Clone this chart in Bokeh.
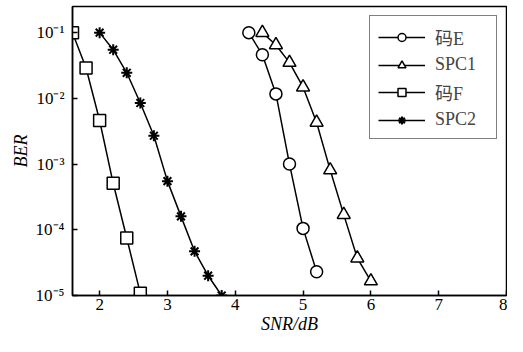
from bokeh.plotting import figure
from bokeh.models import Range1d, FixedTicker, CustomJSTickFormatter, Legend, LegendItem
from bokeh.embed import file_html
from bokeh.resources import INLINE

# ---- data ----
snr_e = [4.2, 4.4, 4.6, 4.8, 5.0, 5.2]
ber_e = [0.1, 0.046, 0.0117, 1.0e-3, 1.05e-4, 2.3e-5]

snr_spc1 = [4.4, 4.6, 4.8, 5.0, 5.2, 5.4, 5.6, 5.8, 6.0]
ber_spc1 = [0.1, 0.065, 0.035, 0.0148, 4.3e-3, 8.1e-4, 1.7e-4, 3.7e-5, 1.66e-5]

snr_f = [1.6, 1.8, 2.0, 2.2, 2.4, 2.6]
ber_f = [0.1, 0.029, 4.6e-3, 5.1e-4, 7.5e-5, 1.08e-5]

snr_spc2 = [2.0, 2.2, 2.4, 2.6, 2.8, 3.0, 3.2, 3.4, 3.6, 3.8]
ber_spc2 = [0.1, 0.055, 0.0245, 8.5e-3, 2.7e-3, 5.5e-4, 1.6e-4, 4.7e-5, 2.0e-5, 1.0e-5]

series_labels = ["码E", "SPC1", "码F", "SPC2"]
x_ticks = [2, 3, 4, 5, 6, 7, 8]
y_ticks = [1e-5, 1e-4, 1e-3, 1e-2, 1e-1]
y_tick_labels = ["10⁻⁵", "10⁻⁴", "10⁻³", "10⁻²", "10⁻¹"]
x_title = "SNR/dB"
y_title = "BER"

SERIF = "Liberation Serif"
FONT = "Liberation Serif, Noto Sans CJK SC"

p = figure(width=507, height=336, x_range=Range1d(1.6, 8), y_range=Range1d(1e-5, 0.25),
           y_axis_type="log", output_backend="svg", toolbar_location=None,
           min_border_left=72, min_border_right=1, min_border_top=6, min_border_bottom=36)
p.title.visible = False
p.background_fill_color = "white"
p.border_fill_color = "white"
p.outline_line_color = "black"
p.outline_line_width = 1.5
p.xgrid.visible = False
p.ygrid.visible = False

for ax in (p.xaxis[0], p.yaxis[0]):
    ax.axis_line_width = 1.5
    ax.axis_line_color = "black"
    ax.major_tick_in = 5
    ax.major_tick_out = 0
    ax.major_tick_line_width = 1.5
    ax.minor_tick_line_color = None
    ax.major_label_text_font = SERIF
    ax.major_label_text_font_size = "17px"
    ax.major_label_text_color = "black"
    ax.axis_label_text_font = SERIF
    ax.axis_label_text_font_size = "18px"
    ax.axis_label_text_color = "black"

p.xaxis.ticker = FixedTicker(ticks=x_ticks)
p.xaxis.major_label_standoff = 3
p.xaxis.axis_label = x_title
p.xaxis.axis_label_text_font_style = "italic"
p.xaxis.axis_label_standoff = 1

p.yaxis.ticker = FixedTicker(ticks=y_ticks)
p.yaxis.major_label_standoff = 8
p.yaxis.formatter = CustomJSTickFormatter(args=dict(vals=y_ticks, labels=y_tick_labels), code="""
const i = vals.findIndex(v => Math.abs(Math.log10(v) - Math.log10(tick)) < 1e-6);
return i >= 0 ? labels[i] : "";
""")
p.yaxis.axis_label = y_title
p.yaxis.axis_label_text_font_style = "italic"
p.yaxis.axis_label_standoff = 2

lw = 1.5
r_e_l = p.line(snr_e, ber_e, line_color="black", line_width=lw)
r_e_m = p.scatter(snr_e, ber_e, marker="circle", size=12, fill_color="white", line_color="black", line_width=lw)
r_s1_l = p.line(snr_spc1, ber_spc1, line_color="black", line_width=lw)
r_s1_m = p.scatter(snr_spc1, ber_spc1, marker="triangle", size=13, fill_color="white", line_color="black", line_width=lw)
r_f_l = p.line(snr_f, ber_f, line_color="black", line_width=lw)
r_f_m = p.scatter(snr_f, ber_f, marker="square", size=12, fill_color="white", line_color="black", line_width=lw)
r_s2_l = p.line(snr_spc2, ber_spc2, line_color="black", line_width=lw)
r_s2_m = p.scatter(snr_spc2, ber_spc2, marker="asterisk", size=11, line_color="black", line_width=2)

legend = Legend(items=[
    LegendItem(label=series_labels[0], renderers=[r_e_l, r_e_m]),
    LegendItem(label=series_labels[1], renderers=[r_s1_l, r_s1_m]),
    LegendItem(label=series_labels[2], renderers=[r_f_l, r_f_m]),
    LegendItem(label=series_labels[3], renderers=[r_s2_l, r_s2_m]),
], location="top_right")
legend.label_text_font = FONT
legend.label_text_font_size = "18px"
legend.border_line_color = "black"
legend.border_line_width = 1.5
legend.glyph_width = 47
legend.glyph_height = 20
legend.label_height = 20
legend.label_width = 53
legend.spacing = 4
legend.padding = 8
legend.margin = 9
legend.label_standoff = 10
legend.background_fill_alpha = 1.0
p.add_layout(legend)

open("out.html", "w").write(file_html(p, INLINE))
